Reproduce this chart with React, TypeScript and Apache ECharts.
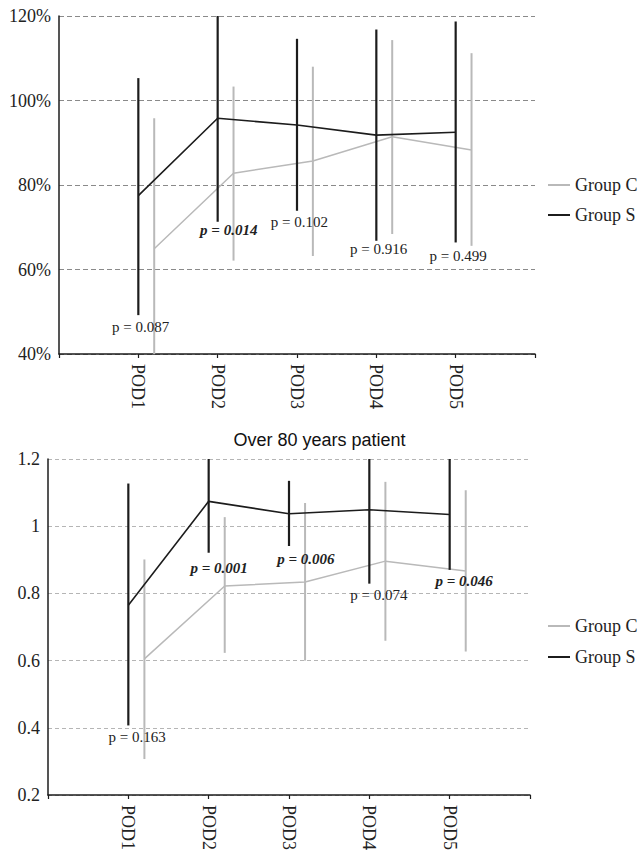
import React, { useEffect, useRef } from "react";
import * as echarts from "echarts";

const categories = ["POD1", "POD2", "POD3", "POD4", "POD5"];
const seriesNames = ["Group C", "Group S"];

// Top panel (percent)
const topTicks = [40, 60, 80, 100, 120];
const topSMean = [77.5, 95.8, 94.2, 91.8, 92.5];
const topSLow = [49.2, 71.3, 73.9, 66.8, 66.4];
const topSHigh = [105.3, 122, 114.6, 116.8, 118.7];
const topCMean = [64.9, 82.8, 85.7, 91.4, 88.3];
const topCLow = [36, 62.1, 63.2, 68.4, 65.6];
const topCHigh = [95.8, 103.3, 108, 114.3, 111.2];
const topPText = ["p = 0.087", "p = 0.014", "p = 0.102", "p = 0.916", "p = 0.499"];
const topPSig = [false, true, false, false, false];
const topPX = [1.03, 2.14, 3.03, 4.03, 5.03];
const topPY = [46.5, 69.3, 71.3, 64.9, 63.2];

// Bottom panel (ratio)
const botTitle = "Over 80 years patient";
const botTicks = [0.2, 0.4, 0.6, 0.8, 1.0, 1.2];
const botSMean = [0.765, 1.074, 1.037, 1.049, 1.035];
const botSLow = [0.407, 0.921, 0.941, 0.829, 0.87];
const botSHigh = [1.127, 1.25, 1.135, 1.27, 1.24];
const botCMean = [0.605, 0.822, 0.834, 0.896, 0.867];
const botCLow = [0.307, 0.623, 0.6, 0.659, 0.627];
const botCHigh = [0.901, 1.027, 1.069, 1.132, 1.107];
const botPText = ["p = 0.163", "p = 0.001", "p = 0.006", "p = 0.074", "p = 0.046"];
const botPSig = [false, true, true, false, true];
const botPX = [1.11, 2.13, 3.21, 4.12, 5.18];
const botPY = [0.374, 0.875, 0.901, 0.795, 0.836];

const SERIF = "'Liberation Serif', 'Times New Roman', serif";
const BLACK = "#1c1c1c";
const GRAY = "#b9b9b9";
const C_OFFSET = 0.2;

function panel(idx: number, cfg: any) {
  const xs = categories.map((_, i) => i + 1);
  const errSeries = (low: number[], high: number[], off: number, color: string, w: number, z: number) => ({
    type: "custom",
    xAxisIndex: idx,
    yAxisIndex: idx,
    clip: true,
    z,
    encode: { x: 0, y: [1, 2] },
    data: xs.map((x, i) => [x + off, low[i], high[i]]),
    renderItem: (params: any, api: any) => {
      const p1 = api.coord([api.value(0), api.value(1)]);
      const p2 = api.coord([api.value(0), api.value(2)]);
      return {
        type: "line",
        shape: { x1: p1[0], y1: p1[1], x2: p2[0], y2: p2[1] },
        style: { stroke: color, lineWidth: w },
      };
    },
  });
  const lineSeries = (name: string, mean: number[], off: number, color: string, w: number, z: number) => ({
    type: "line",
    name,
    xAxisIndex: idx,
    yAxisIndex: idx,
    symbol: "none",
    z,
    color,
    lineStyle: { color, width: w },
    data: xs.map((x, i) => [x + off, mean[i]]),
  });
  const textSeries = {
    type: "custom",
    xAxisIndex: idx,
    yAxisIndex: idx,
    z: 10,
    encode: { x: 0, y: 1 },
    data: cfg.pX.map((x: number, i: number) => [x, cfg.pY[i]]),
    renderItem: (params: any, api: any) => {
      const i = params.dataIndex;
      const p = api.coord([api.value(0), api.value(1)]);
      const sig = cfg.pSig[i];
      return {
        type: "text",
        x: p[0],
        y: p[1],
        style: {
          text: cfg.pText[i],
          fill: "#222",
          fontFamily: SERIF,
          fontSize: 15,
          fontWeight: sig ? "bold" : "normal",
          fontStyle: sig ? "italic" : "normal",
          align: "center",
          verticalAlign: "middle",
        },
      };
    },
  };
  return {
    grid: { left: cfg.left, right: cfg.right, top: cfg.top, bottom: cfg.bottom, containLabel: false },
    xAxis: {
      type: "value",
      gridIndex: idx,
      min: 0,
      max: categories.length + 1,
      interval: 1,
      axisLine: { show: true, onZero: false, lineStyle: { color: BLACK, width: 1.5 } },
      axisTick: { show: true, length: 4, lineStyle: { color: BLACK, width: 1.2 } },
      splitLine: { show: false },
      axisLabel: {
        rotate: -90,
        margin: 10,
        fontFamily: SERIF,
        fontSize: 18,
        color: "#222",
        formatter: (v: number) => (v >= 1 && v <= categories.length ? categories[v - 1] : ""),
      },
    },
    yAxis: {
      type: "value",
      gridIndex: idx,
      min: cfg.ticks[0],
      max: cfg.ticks[cfg.ticks.length - 1],
      interval: cfg.ticks[1] - cfg.ticks[0],
      axisLine: { show: true, lineStyle: { color: BLACK, width: 1.5 } },
      axisTick: { show: false },
      splitLine: { show: true, lineStyle: { color: cfg.gridColor, width: 1, type: cfg.dash } },
      axisLabel: {
        margin: 8,
        fontFamily: SERIF,
        fontSize: 18,
        color: "#222",
        formatter: cfg.fmt,
      },
    },
    series: [
      errSeries(cfg.cLow, cfg.cHigh, C_OFFSET, GRAY, 2, 2),
      lineSeries(seriesNames[0], cfg.cMean, C_OFFSET, GRAY, 1.5, 3),
      errSeries(cfg.sLow, cfg.sHigh, 0, BLACK, 2.2, 4),
      lineSeries(seriesNames[1], cfg.sMean, 0, BLACK, 1.6, 5),
      textSeries,
    ],
    legend: {
      orient: "vertical",
      left: 548,
      top: cfg.legendTop,
      data: seriesNames,
      icon: "rect",
      itemWidth: 22,
      itemHeight: 2,
      itemGap: cfg.legendGap,
      padding: 0,
      selectedMode: false,
      textStyle: { fontFamily: SERIF, fontSize: 18, color: "#222", lineHeight: 20 },
    },
  };
}

export default function App() {
  const ref = useRef<HTMLDivElement>(null);
  useEffect(() => {
    if (!ref.current) return;
    const chart = echarts.init(ref.current, undefined, { renderer: "svg" });
    const top = panel(0, {
      left: 59, right: 104, top: 16, bottom: 499,
      ticks: topTicks, fmt: "{value}%", gridColor: "#8a8a8a", dash: [5, 3],
      sMean: topSMean, sLow: topSLow, sHigh: topSHigh,
      cMean: topCMean, cLow: topCLow, cHigh: topCHigh,
      pText: topPText, pSig: topPSig, pX: topPX, pY: topPY,
      legendTop: 175, legendGap: 10,
    });
    const bot = panel(1, {
      left: 48, right: 109, top: 459, bottom: 56,
      ticks: botTicks, fmt: (v: number) => String(Math.round(v * 10) / 10), gridColor: "#b5b5b5", dash: [4, 3],
      sMean: botSMean, sLow: botSLow, sHigh: botSHigh,
      cMean: botCMean, cLow: botCLow, cHigh: botCHigh,
      pText: botPText, pSig: botPSig, pX: botPX, pY: botPY,
      legendTop: 616, legendGap: 11,
    });
    chart.setOption({
      animation: false,
      backgroundColor: "#ffffff",
      title: {
        text: botTitle,
        left: "center",
        top: 431,
        padding: 0,
        textStyle: { fontFamily: "'Liberation Sans', Arial, sans-serif", fontSize: 18, fontWeight: "normal", color: "#111" },
      },
      grid: [top.grid, bot.grid],
      xAxis: [top.xAxis, bot.xAxis],
      yAxis: [top.yAxis, bot.yAxis],
      legend: [top.legend, bot.legend],
      series: [...top.series, ...bot.series],
    });
    return () => chart.dispose();
  }, []);
  return (
    <div
      ref={ref}
      style={{ position: "absolute", left: 0, top: 0, width: 639, height: 853, background: "#fff" }}
    />
  );
}
